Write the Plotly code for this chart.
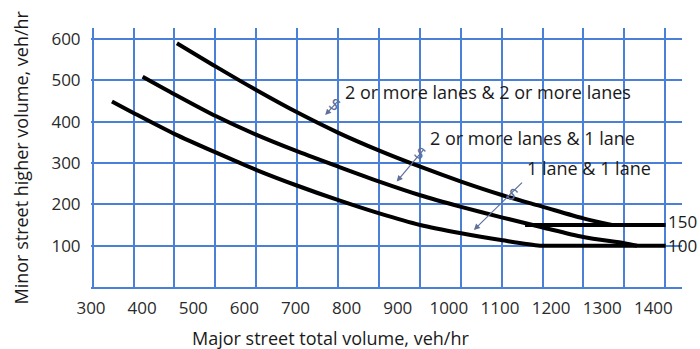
import plotly.graph_objects as go

# Major street total volume (veh/hr) vs. minor street higher-volume approach (veh/hr)
x_two_two = [468, 546, 624, 704, 784, 864, 944, 1024, 1105, 1184, 1263, 1319]
y_two_two = [590, 532, 476, 422, 373, 330, 291, 255, 222, 194, 166, 150]

x_two_one = [401, 464, 545, 624, 704, 784, 864, 944, 1024, 1105, 1184, 1263, 1343, 1368]
y_two_one = [509, 466, 413, 368, 328, 291, 255, 222, 194, 168, 144, 121, 106, 100]

x_one_one = [341, 385, 464, 545, 624, 704, 784, 864, 944, 1024, 1105, 1178, 1210, 1424]
y_one_one = [449, 420, 370, 325, 283, 245, 210, 178, 150, 130, 113, 100, 100, 100]

x_floor_150 = [1149, 1424]
y_floor_150 = [150, 150]

x_tick_vals = [300, 400, 500, 600, 700, 800, 900, 1000, 1100, 1200, 1300, 1400]
x_tick_text = ["300", "400", "500", "600", "700", "800", "900", "1000", "1100", "1200", "1300", "1400"]
y_tick_vals = [100, 200, 300, 400, 500, 600]
y_tick_text = ["100", "200", "300", "400", "500", "600"]

curve_labels = ["2 or more lanes & 2 or more lanes", "2 or more lanes & 1 lane", "1 lane & 1 lane"]

FONT = "Open Sans"
GRID = "#4a80d8"
ARROW = "#5d6f9c"
X_RANGE = [300, 1456]
Y_RANGE = [0, 626.7]
grid_x = [303.3 + 80 * k for k in range(15)]

fig = go.Figure()

line_style = dict(color="black", width=4, shape="spline", smoothing=0.8)
for xs, ys in [(x_two_two, y_two_two), (x_two_one, y_two_one),
               (x_one_one, y_one_one), (x_floor_150, y_floor_150)]:
    fig.add_trace(go.Scatter(x=xs, y=ys, mode="lines", line=line_style,
                             showlegend=False, hoverinfo="skip"))

# carrier trace for the secondary x axis that draws the vertical grid
fig.add_trace(go.Scatter(x=[], y=[], xaxis="x2", showlegend=False, hoverinfo="skip"))

annotations = []

# curve captions
for text, x, y in [(curve_labels[0], 792, 473),
                   (curve_labels[1], 960, 360),
                   (curve_labels[2], 1149, 287)]:
    annotations.append(dict(x=x, y=y, xref="x", yref="y", text=text, showarrow=False,
                            xanchor="left", yanchor="middle",
                            font=dict(family=FONT, size=18, color="#1a1a1a")))

# pointer arrows (tail -> head) with a small squiggle near the tail
for tx, ty, hx, hy, sx, sy in [(787, 455, 758, 416, 777, 441),
                               (953, 336, 898, 255, 944, 322),
                               (1146, 256, 1049, 138, 1124, 222)]:
    annotations.append(dict(x=hx, y=hy, ax=tx, ay=ty, xref="x", yref="y",
                            axref="x", ayref="y", text="", showarrow=True,
                            arrowhead=2, arrowsize=1, arrowwidth=1.2, arrowcolor=ARROW))
    annotations.append(dict(x=sx, y=sy, xref="x", yref="y", text="S", showarrow=False,
                            textangle=35,
                            font=dict(family="DejaVu Sans", size=15, color=ARROW)))

# floor labels at the right end of the flat segments
annotations.append(dict(x=1424, y=150, xref="x", yref="y", text="150", showarrow=False,
                        xanchor="left", yanchor="middle", yshift=4,
                        font=dict(family=FONT, size=17, color="#1a1a1a")))
annotations.append(dict(x=1424, y=100, xref="x", yref="y", text="100", showarrow=False,
                        xanchor="left", yanchor="middle",
                        font=dict(family=FONT, size=17, color="#1a1a1a")))

# axis titles
annotations.append(dict(x=0.405, y=0, xref="paper", yref="paper", yshift=-51,
                        text="Major street total volume, veh/hr", showarrow=False,
                        xanchor="center", yanchor="middle",
                        font=dict(family=FONT, size=18, color="#1a1a1a")))
annotations.append(dict(x=0, y=0.5, xref="paper", yref="paper", xshift=-71,
                        text="Minor street higher volume, veh/hr", showarrow=False,
                        textangle=-90, xanchor="center", yanchor="middle",
                        font=dict(family=FONT, size=18, color="#1a1a1a")))

fig.update_layout(
    width=700, height=349,
    margin=dict(l=91, r=18, t=28, b=62),
    paper_bgcolor="white", plot_bgcolor="white",
    annotations=annotations,
    xaxis=dict(range=X_RANGE, tickmode="array", tickvals=x_tick_vals, ticktext=x_tick_text,
               showgrid=False, zeroline=False, showline=True, linecolor=GRID, linewidth=2,
               ticks="outside", ticklen=5, tickcolor="rgba(0,0,0,0)",
               tickfont=dict(family=FONT, size=17, color="#2a2a2a")),
    xaxis2=dict(range=X_RANGE, overlaying="x", side="bottom", tickmode="array",
                tickvals=grid_x, showticklabels=False, ticks="", showgrid=True,
                gridcolor=GRID, gridwidth=2, zeroline=False, showline=False),
    yaxis=dict(range=Y_RANGE, tickmode="array", tickvals=y_tick_vals, ticktext=y_tick_text,
               showgrid=True, gridcolor=GRID, gridwidth=2, zeroline=False, showline=False,
               ticks="outside", ticklen=6, tickcolor="rgba(0,0,0,0)",
               tickfont=dict(family=FONT, size=17, color="#2a2a2a")),
)

fig.write_html("out.html")
